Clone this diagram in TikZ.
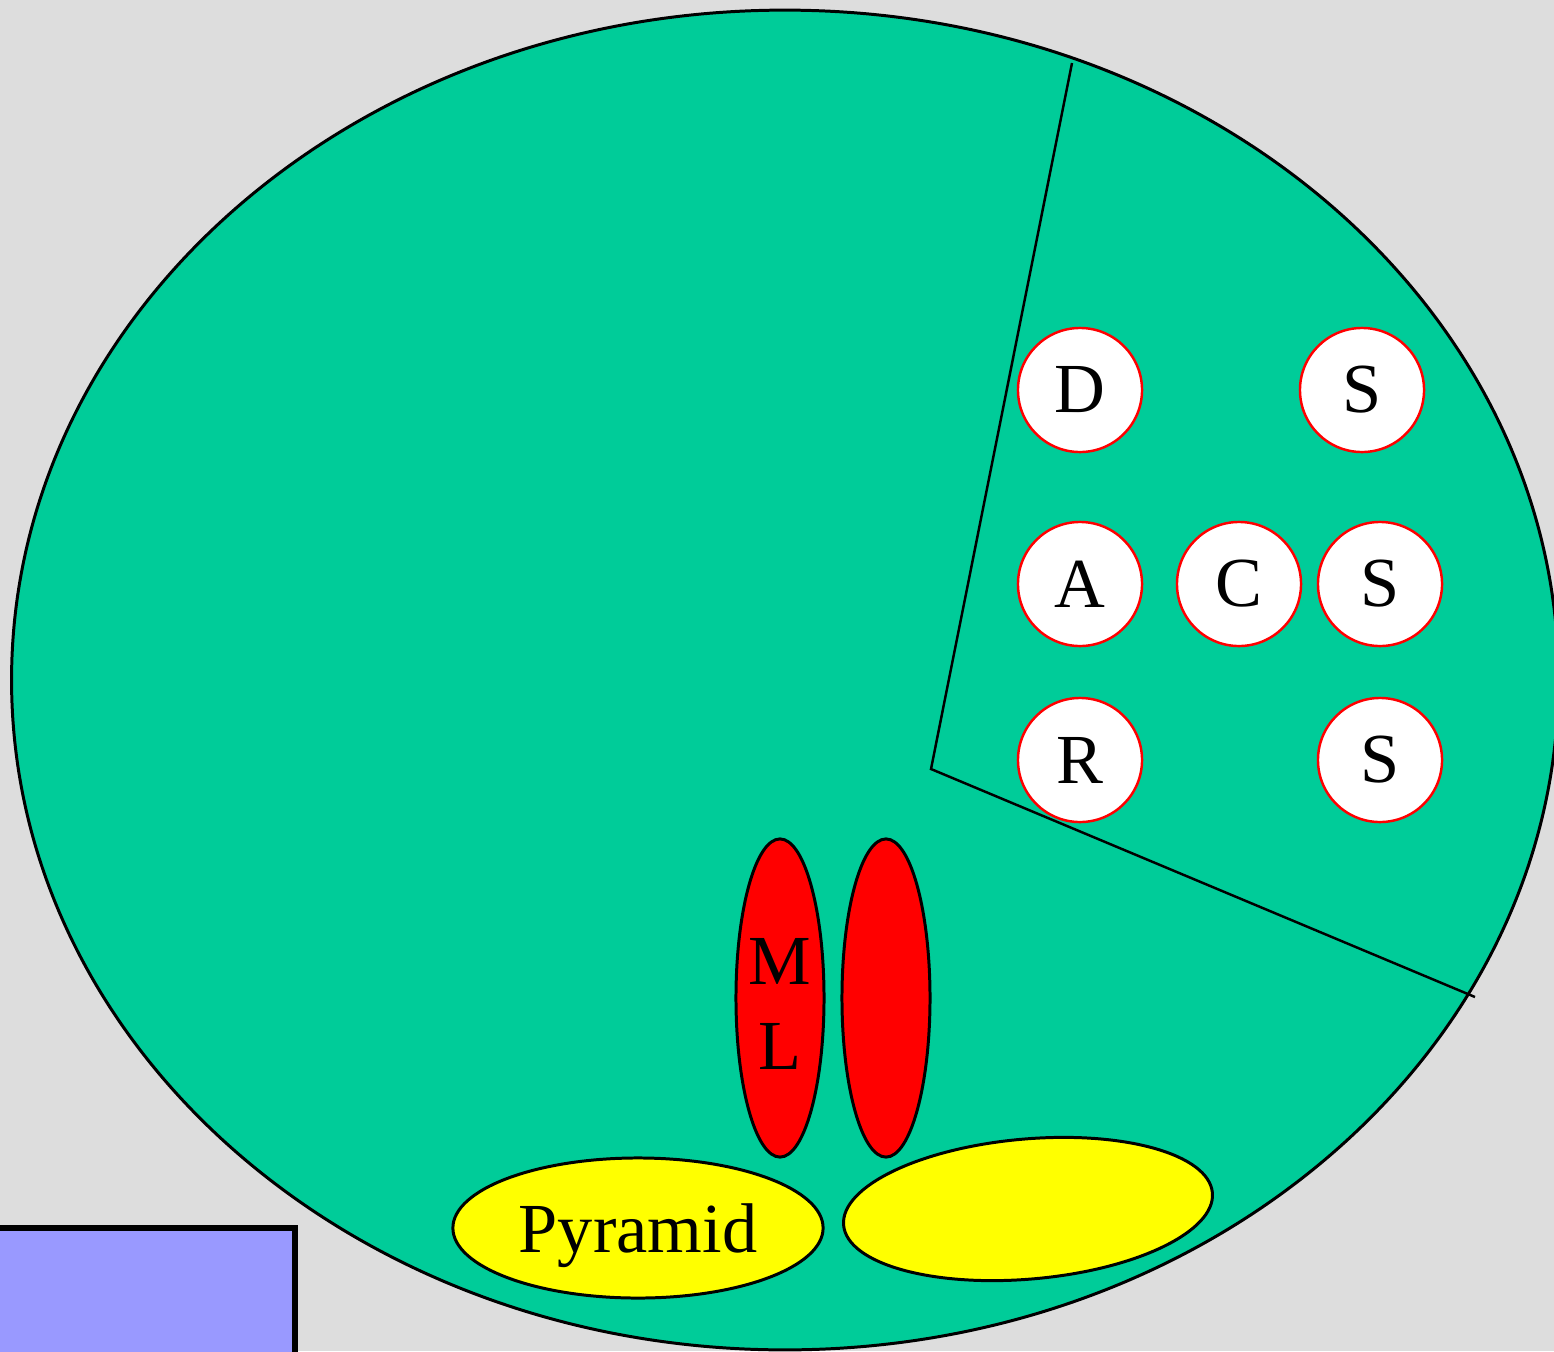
\documentclass[tikz,border=0pt]{standalone}
\usepackage{fontspec}
\setmainfont{Liberation Serif}
\usepackage{xcolor}
\usetikzlibrary{calc, positioning, shapes.geometric}
\definecolor{bgray}{HTML}{DDDDDD}
\definecolor{cellgreen}{HTML}{00CC99}
\definecolor{boxblue}{HTML}{9999FF}
\definecolor{lobered}{HTML}{FF0000}
\definecolor{padyellow}{HTML}{FFFF00}

\begin{document}
\begin{tikzpicture}
                      [x=0.01cm, y=-0.01cm, text centered,
                       font=\fontsize{20}{24}\selectfont,
                       organelle/.style={circle, draw=lobered, line width=0.7pt, fill=white, minimum size=1.24cm, inner sep=0pt},
                       lobe/.style={ellipse, draw, line width=0.85pt, fill=lobered, minimum width=0.88cm, minimum height=3.18cm, inner sep=0pt, align=center},
                       pad/.style={ellipse, draw, line width=0.85pt, fill=padyellow, minimum width=3.7cm, minimum height=1.4cm, inner sep=0pt, text depth=0pt}]
                      \clip (0,0) rectangle (1554,1351);
                      \fill[bgray] (0,0) rectangle (1554,1351);

                      % cell %
                      \node[ellipse, draw, line width=0.85pt, fill=cellgreen, minimum width=15.46cm, minimum height=13.39cm] (cell) at (785,680) {};

                      % wedge %
                      \coordinate (wtop) at (1072,63);
                      \coordinate (wtip) at (931,769);
                      \coordinate (wend) at (1475,997);
                      \draw[line width=0.7pt] (wtop) -- (wtip) -- (wend);

                      % nodes %
                      \node[organelle] (d) at (1080,390) {D};
                      \node[organelle] (s1) at (1362,390) {S};
                      \node[organelle] (a) at (1080,584) {A};
                      \node[organelle] (c) at (1239,584) {C};
                      \node[organelle] (s2) at (1380,584) {S};
                      \node[organelle] (r) at (1080,760) {R};
                      \node[organelle] (s3) at (1380,760) {S};

                      \node[lobe] (ml) at (780,998) {};
                      \node[align=center] (mltext) at (780,1004) {M\\L};
                      \node[lobe] (mr) at (886,998) {};

                      \node[pad] (pyr) at (638,1228) {Pyramid};
                      \node[pad, rotate=5] (pad2) at (1028,1209) {};

                      % box %
                      \draw[line width=1.7pt, fill=boxblue] (-20,1228) rectangle (295,1380);
                    \end{tikzpicture}
\end{document}
